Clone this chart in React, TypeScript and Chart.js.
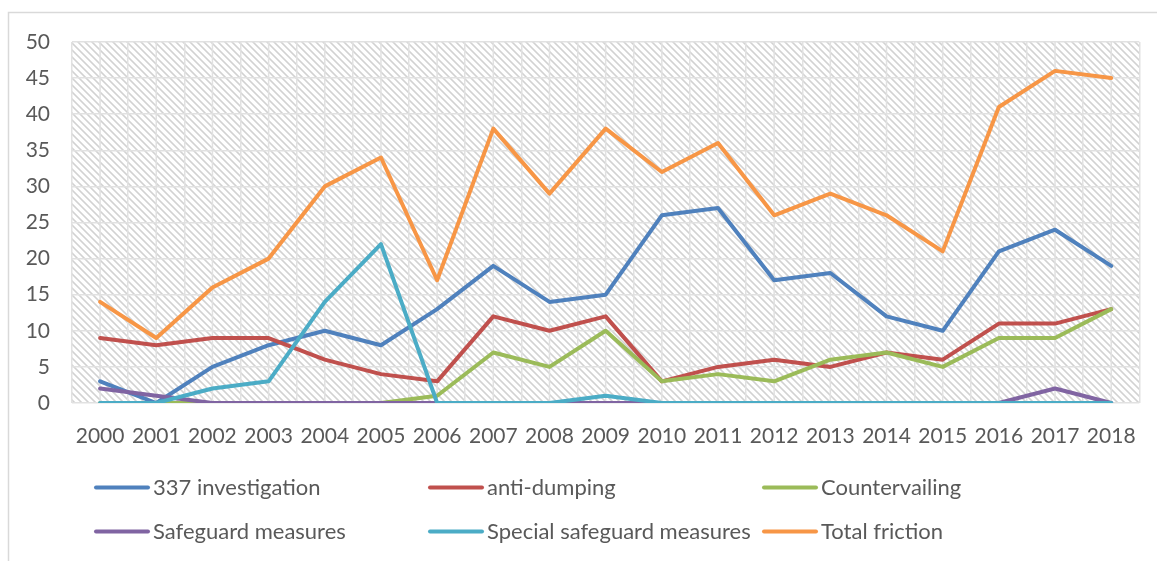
import React, { useEffect, useRef } from "react";
import { Chart, registerables } from "chart.js";

Chart.register(...registerables);

// Trade friction cases by year
const years = [
  "2000", "2001", "2002", "2003", "2004", "2005", "2006", "2007", "2008", "2009",
  "2010", "2011", "2012", "2013", "2014", "2015", "2016", "2017", "2018",
];
const investigation337 = [3, 0, 5, 8, 10, 8, 13, 19, 14, 15, 26, 27, 17, 18, 12, 10, 21, 24, 19];
const antiDumping = [9, 8, 9, 9, 6, 4, 3, 12, 10, 12, 3, 5, 6, 5, 7, 6, 11, 11, 13];
const countervailing = [0, 0, 0, 0, 0, 0, 1, 7, 5, 10, 3, 4, 3, 6, 7, 5, 9, 9, 13];
const safeguard = [2, 1, 0, 0, 0, 0, 0, 0, 0, 0, 0, 0, 0, 0, 0, 0, 0, 2, 0];
const specialSafeguard = [0, 0, 2, 3, 14, 22, 0, 0, 0, 1, 0, 0, 0, 0, 0, 0, 0, 0, 0];
const totalFriction = [14, 9, 16, 20, 30, 34, 17, 38, 29, 38, 32, 36, 26, 29, 26, 21, 41, 46, 45];

const seriesNames = [
  "337 investigation",
  "anti-dumping",
  "Countervailing",
  "Safeguard measures",
  "Special safeguard measures",
  "Total friction",
];
const seriesValues = [investigation337, antiDumping, countervailing, safeguard, specialSafeguard, totalFriction];
const seriesColors = ["#4F81BD", "#C0504D", "#9BBB59", "#8064A2", "#4BACC6", "#F79646"];

const yTicks = { min: 0, max: 50, step: 5 };

const TEXT_COLOR = "#595959";
const GRID_COLOR = "#e1e1e1";
const FONT_FAMILY = "Lato, 'Open Sans', sans-serif";

function makeHatch(ctx: CanvasRenderingContext2D): CanvasPattern | string {
  const P = 7;
  const tile = document.createElement("canvas");
  tile.width = P;
  tile.height = P;
  const g = tile.getContext("2d");
  if (!g) return "#f2f2f2";
  const img = g.createImageData(P, P);
  const stripe = 210;
  for (let y = 0; y < P; y++) {
    for (let x = 0; x < P; x++) {
      const d = (((x - y) % P) + P) % P;
      const dist = Math.min(Math.abs(d - 1), P - Math.abs(d - 1));
      const a = Math.max(0, Math.min(1, 1.4 - dist * 0.75));
      const v = Math.round(255 - (255 - stripe) * a);
      const k = (y * P + x) * 4;
      img.data[k] = v;
      img.data[k + 1] = v;
      img.data[k + 2] = v;
      img.data[k + 3] = 255;
    }
  }
  g.putImageData(img, 0, 0);
  return ctx.createPattern(tile, "repeat") || "#f2f2f2";
}

const decorPlugin = {
  id: "decor",
  beforeDraw(chart: any) {
    const { ctx, chartArea: a } = chart;
    ctx.save();
    ctx.fillStyle = "#ffffff";
    ctx.fillRect(0, 0, chart.width, chart.height);
    // outer frame
    ctx.strokeStyle = "#d9d9d9";
    ctx.lineWidth = 1.5;
    ctx.beginPath();
    ctx.moveTo(8.5, chart.height + 4);
    ctx.lineTo(8.5, 12.5);
    ctx.lineTo(chart.width + 4, 12.5);
    ctx.stroke();
    // hatched plot background
    ctx.fillStyle = makeHatch(ctx);
    ctx.fillRect(a.left, a.top, a.right - a.left, a.bottom - a.top);
    ctx.restore();
  },
  beforeDatasetsDraw(chart: any) {
    const { ctx, chartArea: a } = chart;
    const xs = chart.scales.x;
    ctx.save();
    ctx.strokeStyle = GRID_COLOR;
    ctx.lineWidth = 1.5;
    ctx.beginPath();
    for (let i = 0; i < years.length; i++) {
      const px = xs.getPixelForValue(i);
      ctx.moveTo(px, a.top);
      ctx.lineTo(px, a.bottom);
    }
    ctx.stroke();
    ctx.restore();
  },
  afterDraw(chart: any) {
    const { ctx } = chart;
    ctx.save();
    ctx.font = `22px ${FONT_FAMILY}`;
    ctx.textBaseline = "middle";
    ctx.textAlign = "left";
    chart.data.datasets.forEach((ds: any, i: number) => {
      const col = i % 3;
      const row = Math.floor(i / 3);
      const x0 = 96 + col * 334;
      const y = 487.5 + row * 44;
      ctx.strokeStyle = ds.borderColor;
      ctx.lineWidth = 4;
      ctx.lineCap = "round";
      ctx.beginPath();
      ctx.moveTo(x0, y);
      ctx.lineTo(x0 + 52, y);
      ctx.stroke();
      ctx.fillStyle = TEXT_COLOR;
      ctx.fillText(ds.label, x0 + 57, y);
    });
    ctx.restore();
  },
};

export default function App() {
  const canvasRef = useRef<HTMLCanvasElement | null>(null);

  useEffect(() => {
    const canvas = canvasRef.current;
    if (!canvas) return;
    const chart = new Chart(canvas, {
      type: "line",
      data: {
        labels: years,
        datasets: seriesNames.map((name, i) => ({
          label: name,
          data: seriesValues[i],
          borderColor: seriesColors[i],
          backgroundColor: seriesColors[i],
          borderWidth: 4,
          pointRadius: 0,
          tension: 0,
          fill: false,
          borderJoinStyle: "round" as const,
          borderCapStyle: "round" as const,
          order: seriesNames.length - 1 - i,
        })),
      },
      options: {
        responsive: false,
        animation: false,
        devicePixelRatio: 1,
        layout: { padding: { top: 42, right: 16, left: 0, bottom: 0 } },
        plugins: {
          legend: { display: false },
          tooltip: { enabled: false },
        },
        scales: {
          x: {
            type: "category",
            offset: true,
            grid: { offset: true, color: GRID_COLOR, lineWidth: 1.5, drawTicks: false },
            border: { display: false },
            ticks: {
              color: TEXT_COLOR,
              font: { family: FONT_FAMILY, size: 21 },
              padding: 21,
              maxRotation: 0,
              autoSkip: false,
            },
            afterFit: (s: any) => {
              s.height = 158;
            },
          },
          y: {
            min: yTicks.min,
            max: yTicks.max,
            grid: { color: GRID_COLOR, lineWidth: 1.5, drawTicks: false },
            border: { display: false },
            ticks: {
              stepSize: yTicks.step,
              color: TEXT_COLOR,
              font: { family: FONT_FAMILY, size: 21 },
              padding: 22,
            },
            afterFit: (s: any) => {
              s.width = 72;
            },
          },
        },
      },
      plugins: [decorPlugin],
    });
    return () => chart.destroy();
  }, []);

  return (
    <div style={{ position: "absolute", left: 0, top: 0, width: 1157, height: 561 }}>
      <canvas ref={canvasRef} width={1157} height={561} style={{ display: "block" }} />
    </div>
  );
}
